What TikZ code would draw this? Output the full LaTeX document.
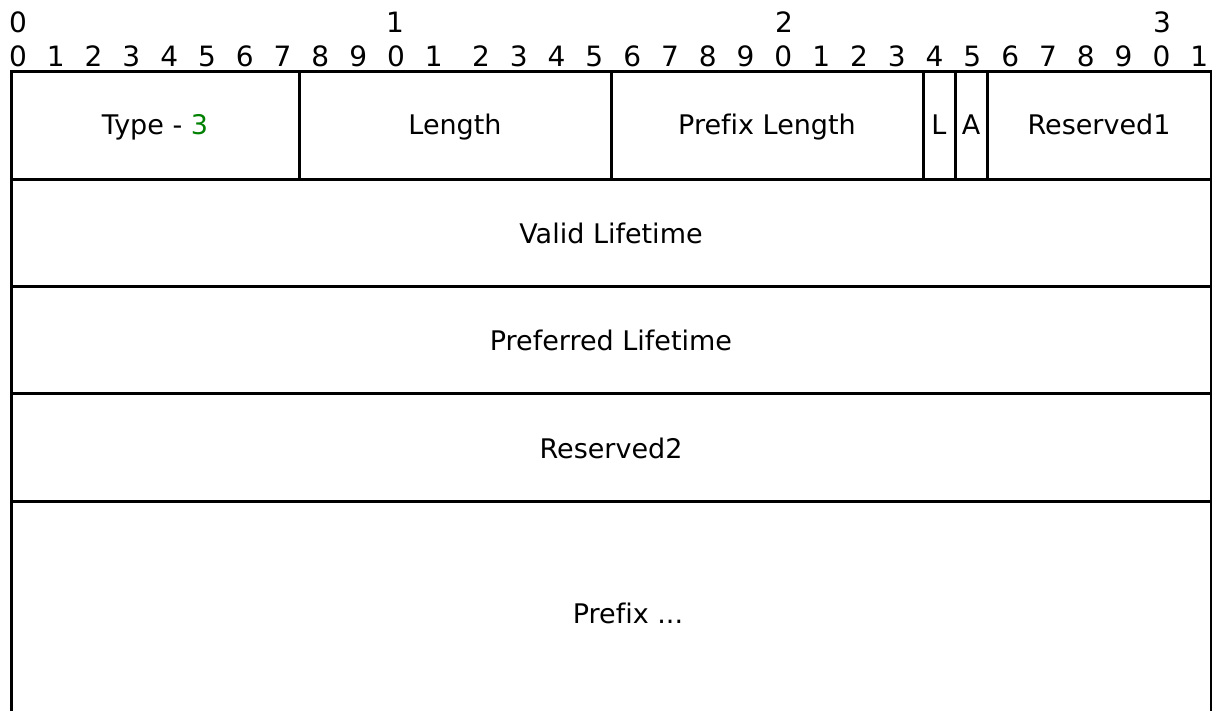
\documentclass[tikz,border=0pt]{standalone}
\usepackage{fontspec}
\setmainfont[Ligatures=CommonOff]{DejaVu Sans}
\definecolor{typegreen}{RGB}{0,128,0}
\begin{document}
\begin{tikzpicture}[x=0.5pt,y=-0.5pt,
  cell/.style={draw=black,line width=1.5pt},
  lbl/.style={anchor=base,inner sep=0pt,font=\fontsize{13.5}{16}\selectfont},
  bitnum/.style={anchor=base,inner sep=0pt,font=\fontsize{14}{16}\selectfont}]
\useasboundingbox (0,0) rectangle (1212,711);
\begin{scope}
\clip (0,0) rectangle (1212,711);
% bit ruler: tens row
\node[bitnum] (t0) at (18,33) {0};
\node[bitnum] (t1) at (395,33) {1};
\node[bitnum] (t2) at (784,33) {2};
\node[bitnum] (t3) at (1162,33) {3};
% bit ruler: units row
\foreach \i in {0,...,11}{
  \pgfmathtruncatemacro{\d}{mod(\i,10)}
  \node[bitnum] (u\i) at ({18+37.8*\i},67) {\d};
}
\foreach \i in {12,...,31}{
  \pgfmathtruncatemacro{\d}{mod(\i,10)}
  \node[bitnum] (u\i) at ({481+37.8*(\i-12)},67) {\d};
}
% first word
\draw[cell] (11,72) rectangle (299,180);
\draw[cell] (299,72) rectangle (611,180);
\draw[cell] (611,72) rectangle (923,180);
\draw[cell] (923,72) rectangle (955,180);
\draw[cell] (955,72) rectangle (987,180);
\draw[cell] (987,72) rectangle (1211,180);
% full-width words
\draw[cell] (11,180) rectangle (1211,287);
\draw[cell] (11,287) rectangle (1211,394);
\draw[cell] (11,394) rectangle (1211,502);
\draw[cell] (11,502) rectangle (1211,730);
% field labels
\node[lbl] (type) at (155,135) {Type - \textcolor{typegreen}{3}};
\node[lbl] (len) at (455,135) {Length};
\node[lbl] (plen) at (767,135) {Prefix Length};
\node[lbl] (lflag) at (939,135) {L};
\node[lbl] (aflag) at (971,135) {A};
\node[lbl] (res1) at (1099,135) {Reserved1};
\node[lbl] (valid) at (611,244) {Valid Lifetime};
\node[lbl] (pref) at (611,351) {Preferred Lifetime};
\node[lbl] (res2) at (611,459) {Reserved2};
\node[lbl] (prefix) at (628,624) {Prefix ...};
\end{scope}
\end{tikzpicture}
\end{document}
